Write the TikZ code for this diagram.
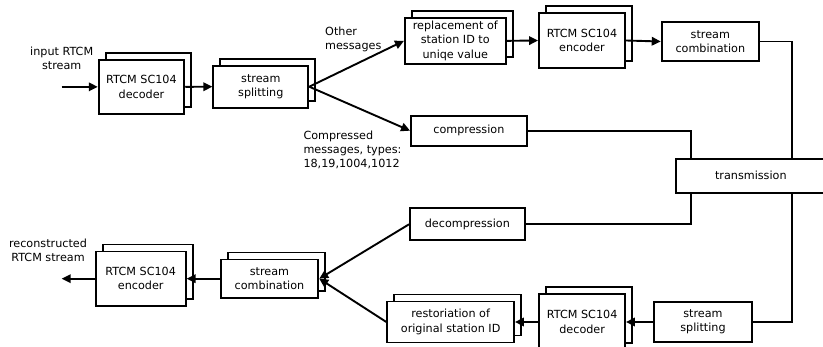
\documentclass[tikz,border=0pt]{standalone}
\usepackage{fontspec}
\setmainfont{DejaVu Sans}
\usetikzlibrary{shadows,arrows.meta}
\begin{document}
\begin{tikzpicture}[x=1pt,y=-1pt,
  every node/.style={font=\fontsize{11.2}{14.3}\selectfont, align=center, inner sep=0pt},
  box/.style={draw, line width=1.9pt, fill=white},
  stackbox/.style={box, copy shadow={shadow xshift=7pt, shadow yshift=7pt, draw, fill=white, line width=1.9pt}},
  ln/.style={line width=1.9pt},
  arr/.style={line width=1.9pt, -{Triangle[length=9pt,width=8.5pt]}}
]
\useasboundingbox (0,0) rectangle (823,347);

% upper chain
\node[stackbox, minimum width=85.6pt, minimum height=53.7pt] (dec1) at (141.5,86.85) {RTCM SC104\\decoder};
\node[stackbox, minimum width=95pt, minimum height=42pt] (split1) at (260.8,86.7) {stream\\splitting};
\node[stackbox, minimum width=100.7pt, minimum height=46.3pt] (repl) at (455.3,40.85) {replacement of\\station ID to\\uniqe value};
\node[stackbox, minimum width=86pt, minimum height=54.6pt] (enc1) at (582,40.5) {RTCM SC104\\encoder};
\node[box, minimum width=97.3pt, minimum height=38.3pt] (comb1) at (710.35,41.5) {stream\\combination};
\node[box, minimum width=115.7pt, minimum height=30pt] (compr) at (468.85,130.7) {compression};
\node[box, minimum width=150.3pt, minimum height=34pt] (trans) at (750.85,175.7) {transmission};

% lower chain
\node[box, minimum width=114.7pt, minimum height=32pt] (decompr) at (467.35,224.3) {decompression};
\node[box, minimum width=98pt, minimum height=39.7pt] (split2) at (703,322) {stream\\splitting};
\node[stackbox, minimum width=85.7pt, minimum height=56pt] (dec2) at (582.15,322) {RTCM SC104\\decoder};
\node[stackbox, minimum width=126.7pt, minimum height=41pt] (restor) at (450.65,322) {restoriation of\\original station ID};
\node[stackbox, minimum width=97.6pt, minimum height=38.4pt] (comb2) at (269.5,278.7) {stream\\combination};
\node[stackbox, minimum width=90pt, minimum height=54.3pt] (enc2) at (140.7,278.7) {RTCM SC104\\encoder};

% labels
\node (lin) at (61.7,58) {input RTCM\\stream};
\node[anchor=west, align=left] (lother) at (325,39.5) {Other\\messages};
\node[anchor=west, align=left] (lcomp) at (303.3,150) {Compressed\\messages, types:\\18,19,1004,1012};
\node (lout) at (48,250) {reconstructed\\RTCM stream};

\coordinate (in) at (61.7,86.85);
\coordinate (out) at (61.7,278.7);

% connectors
\draw[arr] (in) -- (dec1.west);
\draw[arr] (dec1.east) -- (split1.west);
\draw[arr] (split1.east) -- (repl.west);
\draw[arr] (split1.east) -- (compr.west);
\draw[arr] (repl.east) -- (enc1.west);
\draw[arr] (enc1.east) -- (comb1.west);
\draw[ln] (comb1.east) -| ([xshift=41.45pt]trans.north);
\draw[ln] (compr.east) -| ([xshift=-60.15pt]trans.north);
\draw[ln] ([xshift=-60.15pt]trans.south) |- (decompr.east);
\draw[ln] ([xshift=41.45pt]trans.south) |- (split2.east);
\draw[arr] (split2.west) -- (dec2.east);
\draw[arr] (dec2.west) -- (restor.east);
\draw[arr] (decompr.west) -- (comb2.east);
\draw[arr] (restor.west) -- (comb2.east);
\draw[arr] (comb2.west) -- (enc2.east);
\draw[arr] (enc2.west) -- (out);
\end{tikzpicture}
\end{document}
